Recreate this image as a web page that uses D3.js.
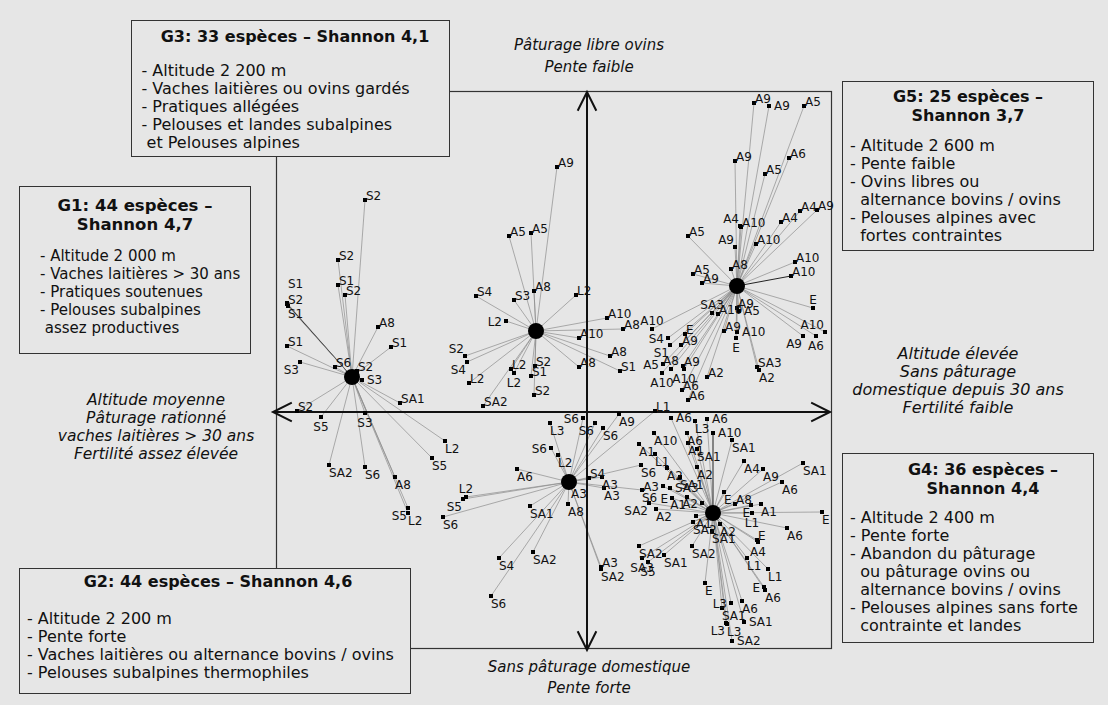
<!DOCTYPE html>
<html>
<head>
<meta charset="utf-8">
<script src="https://cdn.jsdelivr.net/npm/d3@7"></script>
<style>
  body { margin: 0; background: #e6e6e6; }
  svg { display: block; }
  text { font-family: "DejaVu Sans", Verdana, sans-serif; fill: #111; }
</style>
</head>
<body>
<svg id="chart"></svg>
<script>
const svg_width = 1108;
const svg_height = 705;

// group centroids (factor scores, axis 1 / axis 2)
const groupNames = ["G1", "G2", "G3", "G4", "G5"];
const centerX = [-2.35, -0.18, -0.51, 1.26, 1.50];
const centerY = [0.35, -0.70, 0.81, -1.01, 1.26];

// relevés: [label, axis1, axis2, label side]
const g1Points = [
  ["S2", -2.22, 2.12, "ne"], ["S2", -2.49, 1.52, "ne"], ["S1", -2.49, 1.27, "ne"],
  ["S2", -2.42, 1.17, "ne"], ["S1", -3.00, 1.09, "n2"], ["S2", -3.00, 1.08, "ne"],
  ["S1", -2.99, 1.06, "se"], ["A8", -2.09, 0.85, "ne"], ["S1", -1.96, 0.65, "ne"],
  ["S1", -3.00, 0.66, "ne"], ["S3", -2.87, 0.50, "sw"], ["S6", -2.52, 0.45, "ne"],
  ["S2", -2.30, 0.41, "ne"], ["S3", -2.25, 0.32, "e"], ["SA1", -1.87, 0.09, "ne"],
  ["S2", -2.90, 0.01, "ne"], ["S5", -2.66, -0.05, "s"], ["S3", -2.22, -0.01, "s"],
  ["SA2", -2.58, -0.53, "se"], ["S6", -2.22, -0.55, "se"], ["A8", -1.92, -0.65, "se"],
  ["L2", -1.42, -0.29, "se"], ["S5", -1.55, -0.46, "se"], ["S5", -1.79, -0.96, "sw"],
  ["L2", -1.79, -1.01, "se"]
];

const g2Points = [
  ["S6", -0.04, -0.06, "w"], ["L3", -0.37, -0.11, "se"], ["S6", 0.08, -0.11, "sw"],
  ["S6", 0.16, -0.16, "se"], ["A9", 0.32, -0.02, "se"], ["S6", -0.36, -0.36, "w"],
  ["L2", -0.29, -0.43, "se"], ["A6", -0.70, -0.57, "se"], ["S4", 0.02, -0.66, "ne"],
  ["A3", 0.15, -0.65, "se"], ["A3", 0.17, -0.76, "se"], ["A3", -0.16, -0.74, "se"],
  ["A8", -0.19, -0.92, "se"], ["L2", -1.21, -0.85, "n"], ["S5", -1.24, -0.87, "sw"],
  ["S6", -1.44, -1.05, "se"], ["SA1", -0.57, -0.94, "se"], ["S4", -0.88, -1.46, "se"],
  ["SA2", -0.54, -1.40, "se"], ["A3", 0.14, -1.55, "ne"], ["SA2", 0.14, -1.57, "se"],
  ["S6", -0.96, -1.84, "se"], ["L1", 0.68, 0.01, "ne"], ["S6", 0.54, -0.53, "se"],
  ["S6", 0.55, -0.78, "se"]
];

const g3Points = [
  ["A9", -0.30, 2.45, "ne"], ["A5", -0.78, 1.76, "ne"], ["A5", -0.56, 1.79, "ne"],
  ["A8", -0.53, 1.21, "ne"], ["S3", -0.73, 1.12, "ne"], ["S4", -1.11, 1.16, "ne"],
  ["L2", -0.11, 1.17, "ne"], ["L2", -0.81, 0.91, "w"], ["A10", 0.20, 0.94, "ne"],
  ["A8", 0.36, 0.83, "ne"], ["A10", -0.08, 0.74, "ne"], ["S2", -1.22, 0.56, "nw"],
  ["S4", -1.20, 0.50, "sw"], ["L2", -1.18, 0.29, "ne"], ["L2", -0.76, 0.43, "ne"],
  ["L2", -0.73, 0.39, "s"], ["S2", -0.52, 0.46, "ne"], ["S1", -0.56, 0.36, "ne"],
  ["S2", -0.53, 0.17, "ne"], ["SA2", -1.04, 0.06, "ne"], ["A8", 0.23, 0.56, "ne"],
  ["A8", -0.08, 0.45, "ne"], ["S1", 0.33, 0.41, "ne"]
];

const g4Points = [
  ["A6", 0.84, -0.06, "e"], ["L3", 1.08, -0.09, "se"], ["A6", 1.20, -0.07, "e"],
  ["A10", 1.26, -0.21, "e"], ["A10", 0.67, -0.21, "se"], ["A6", 1.00, -0.21, "se"],
  ["A1", 1.01, -0.31, "se"], ["SA1", 1.10, -0.37, "se"], ["SA1", 1.45, -0.28, "se"],
  ["A1", 0.52, -0.32, "se"], ["L1", 0.68, -0.42, "se"], ["A2", 0.80, -0.56, "se"],
  ["A2", 1.10, -0.55, "se"], ["SA1", 0.93, -0.65, "se"], ["A3", 0.76, -0.74, "w"],
  ["SA3", 0.83, -0.76, "e"], ["E", 0.85, -0.86, "w"], ["A1", 1.00, -0.85, "sw"],
  ["A2", 1.15, -0.91, "w"], ["SA2", 0.62, -0.91, "sw"], ["A2", 0.69, -0.97, "se"],
  ["A1", 1.09, -1.04, "se"], ["SA2", 1.06, -1.10, "se"], ["A2", 1.33, -1.12, "se"],
  ["SA1", 1.25, -1.19, "se"], ["E", 1.37, -0.80, "se"], ["A8", 1.48, -0.92, "ne"],
  ["A4", 1.57, -0.49, "se"], ["A9", 1.76, -0.57, "se"], ["SA1", 2.16, -0.51, "se"],
  ["A6", 1.95, -0.70, "se"], ["E", 1.64, -0.93, "sw"], ["A1", 1.74, -0.92, "se"],
  ["L1", 1.65, -1.01, "s"], ["E", 2.35, -1.00, "se"], ["A6", 2.00, -1.16, "se"],
  ["E", 1.70, -1.28, "ne"], ["A4", 1.71, -1.30, "s"], ["SA2", 0.52, -1.34, "se"],
  ["SA2", 1.05, -1.34, "se"], ["SA1", 0.77, -1.43, "se"], ["SA3", 0.55, -1.46, "s"],
  ["S5", 0.61, -1.50, "s"], ["L1", 1.60, -1.46, "se"], ["L1", 1.81, -1.57, "se"],
  ["E", 1.77, -1.75, "w"], ["A6", 1.78, -1.78, "se"], ["E", 1.18, -1.71, "se"],
  ["L3", 1.44, -1.91, "w"], ["A6", 1.55, -1.89, "se"], ["SA1", 1.35, -1.96, "se"],
  ["SA1", 1.57, -2.10, "e"], ["L3", 1.39, -2.11, "sw"], ["L3", 1.40, -2.12, "se"],
  ["SA2", 1.45, -2.29, "e"]
];

const g5Points = [
  ["A9", 1.67, 3.09, "ne"], ["A9", 1.82, 3.06, "e"], ["A5", 2.17, 3.06, "ne"],
  ["A9", 1.48, 2.51, "ne"], ["A6", 2.02, 2.54, "ne"], ["A5", 1.78, 2.38, "ne"],
  ["A4", 2.13, 2.01, "ne"], ["A9", 2.30, 2.02, "ne"], ["A4", 1.94, 1.90, "ne"],
  ["A4", 1.53, 1.86, "nw"], ["A10", 1.54, 1.85, "ne"], ["A9", 1.48, 1.65, "nw"],
  ["A10", 1.69, 1.68, "ne"], ["A5", 1.01, 1.76, "ne"], ["A10", 2.08, 1.50, "ne"],
  ["A10", 2.04, 1.36, "ne"], ["A8", 1.44, 1.43, "ne"], ["A5", 1.06, 1.38, "ne"],
  ["A9", 1.15, 1.29, "ne"], ["SA3", 1.25, 0.99, "n"], ["A10", 1.31, 0.98, "ne"],
  ["A9", 1.50, 1.04, "ne"], ["A5", 1.52, 1.01, "e"], ["E", 2.26, 1.04, "n"],
  ["A10", 1.50, 0.80, "e"], ["A9", 1.37, 0.81, "ne"], ["E", 1.49, 0.74, "s"],
  ["A10", 2.38, 0.80, "nw"], ["A9", 2.16, 0.76, "sw"], ["A6", 2.29, 0.76, "s"],
  ["SA3", 1.70, 0.45, "ne"], ["A2", 1.72, 0.42, "se"], ["A2", 1.20, 0.35, "ne"],
  ["E", 0.98, 0.78, "ne"], ["S4", 0.81, 0.74, "w"], ["A9", 0.94, 0.67, "ne"],
  ["S1", 0.83, 0.67, "sw"], ["A5", 0.76, 0.48, "w"], ["A8", 0.84, 0.43, "n"],
  ["A9", 0.96, 0.46, "ne"], ["A10", 0.97, 0.43, "s"], ["A10", 0.75, 0.39, "s"],
  ["A6", 0.95, 0.22, "ne"], ["A6", 1.01, 0.12, "ne"], ["A10", 0.65, 0.83, "n"]
];

const groupPoints = [g1Points, g2Points, g3Points, g4Points, g5Points];

// spokes drawn darker in the original: [group index, point index]
const darkSpokes = [[0, 5], [3, 3], [4, 15]];

// axis extremities
const xDomain = [-3.11, 2.44];
const yDomain = [-2.36, 3.21];

// text
const topLabel = ["Pâturage libre ovins", "Pente faible"];
const bottomLabel = ["Sans pâturage domestique", "Pente forte"];
const leftLabel = ["Altitude moyenne", "Pâturage rationné", "vaches laitières > 30 ans", "Fertilité assez élevée"];
const rightLabel = ["Altitude élevée", "Sans pâturage", "domestique depuis 30 ans", "Fertilité faible"];

const boxTitles = {
  G3: ["G3: 33 espèces – Shannon 4,1"],
  G1: ["G1: 44 espèces –", "Shannon 4,7"],
  G2: ["G2: 44 espèces – Shannon 4,6"],
  G5: ["G5: 25 espèces –", "Shannon 3,7"],
  G4: ["G4: 36 espèces –", "Shannon 4,4"]
};
const boxLines = {
  G3: ["- Altitude 2 200 m", "- Vaches laitières ou ovins gardés", "- Pratiques allégées",
       "- Pelouses et landes subalpines", " et Pelouses alpines"],
  G1: ["- Altitude 2 000 m", "- Vaches laitières > 30 ans", "- Pratiques soutenues",
       "- Pelouses subalpines", " assez productives"],
  G2: ["- Altitude 2 200 m", "- Pente forte", "- Vaches laitières ou alternance bovins / ovins",
       "- Pelouses subalpines thermophiles"],
  G5: ["- Altitude 2 600 m", "- Pente faible", "- Ovins libres ou", "  alternance bovins / ovins",
       "- Pelouses alpines avec", "  fortes contraintes"],
  G4: ["- Altitude 2 400 m", "- Pente forte", "- Abandon du pâturage", "  ou pâturage ovins ou",
       "  alternance bovins / ovins", "- Pelouses alpines sans forte", "  contrainte et landes"]
};

// box layout (pixels)
const boxLayout = {
  G3: {x: 131.5, y: 20.5, w: 318, h: 136, cx: 295, t0: 42, b0: 76, bx: 141.5, fs: 16, ts: 16},
  G1: {x: 19.5, y: 186.5, w: 231, h: 167, cx: 135, t0: 211, b0: 261, bx: 40, fs: 15, ts: 16.5},
  G2: {x: 19.5, y: 568.5, w: 391, h: 125, cx: 218, t0: 587, b0: 624, bx: 27, fs: 16, ts: 16},
  G5: {x: 842.5, y: 81.5, w: 251, h: 169, cx: 968, t0: 102, b0: 151, bx: 850, fs: 16, ts: 16},
  G4: {x: 842.5, y: 453.5, w: 251, h: 189, cx: 983, t0: 475, b0: 523, bx: 850, fs: 16, ts: 16}
};

const svg = d3.select("svg#chart")
    .attr("width", svg_width)
    .attr("height", svg_height);

svg.append("rect")
    .attr("width", svg_width)
    .attr("height", svg_height)
    .attr("fill", "#e6e6e6");

var x = d3.scaleLinear().domain(xDomain).range([276, 831]);
var y = d3.scaleLinear().domain(yDomain).range([648, 91]);

// frame
svg.append("rect")
    .attr("x", x(xDomain[0]) + 0.5)
    .attr("y", y(yDomain[1]) + 0.5)
    .attr("width", x(xDomain[1]) - x(xDomain[0]))
    .attr("height", y(yDomain[0]) - y(yDomain[1]))
    .attr("fill", "none")
    .attr("stroke", "#333")
    .attr("stroke-width", 1.2);

// spokes
groupPoints.forEach((pts, gi) => {
  svg.append("g")
    .selectAll("line")
    .data(pts)
    .enter()
    .append("line")
    .attr("x1", x(centerX[gi]))
    .attr("y1", y(centerY[gi]))
    .attr("x2", d => x(d[1]))
    .attr("y2", d => y(d[2]))
    .attr("stroke", (d, i) => darkSpokes.some(s => s[0] === gi && s[1] === i) ? "#222" : "#8c8c8c")
    .attr("stroke-width", (d, i) => darkSpokes.some(s => s[0] === gi && s[1] === i) ? 1 : 0.7);
});

// axes arrows
function arrow(x1, y1, x2, y2) {
  var g = svg.append("g").attr("stroke", "#111").attr("stroke-width", 2).attr("fill", "none");
  g.append("line").attr("x1", x1).attr("y1", y1).attr("x2", x2).attr("y2", y2);
  var ang = Math.atan2(y2 - y1, x2 - x1);
  [[x1, y1, ang + Math.PI], [x2, y2, ang]].forEach(([tx, ty, a]) => {
    var l = 21, s = 0.46;
    g.append("path")
      .attr("d", "M" + (tx - l * Math.cos(a - s)) + "," + (ty - l * Math.sin(a - s)) +
                 "L" + tx + "," + ty +
                 "L" + (tx - l * Math.cos(a + s)) + "," + (ty - l * Math.sin(a + s)));
  });
}
arrow(x(-3.14), y(0), x(2.43), y(0));
arrow(x(0), y(3.20), x(0), y(-2.38));

// markers
const allPoints = groupPoints.flat();
svg.append("g")
  .selectAll("rect")
  .data(allPoints)
  .enter()
  .append("rect")
  .attr("x", d => x(d[1]) - 2)
  .attr("y", d => y(d[2]) - 2)
  .attr("width", 4)
  .attr("height", 4)
  .attr("fill", "#000");

// centroids
svg.append("g")
  .selectAll("circle")
  .data(groupNames)
  .enter()
  .append("circle")
  .attr("cx", (d, i) => x(centerX[i]))
  .attr("cy", (d, i) => y(centerY[i]))
  .attr("r", 8)
  .attr("fill", "#000");

// point labels
const side = {
  ne: [1, 0, "start"], e: [5, 4, "start"], se: [0, 12, "start"], s: [0, 14, "middle"],
  sw: [-1, 12, "end"], w: [-4, 5, "end"], nw: [-1, -3, "end"], n: [0, -4, "middle"],
  n2: [1, -15, "start"]
};
svg.append("g")
  .selectAll("text")
  .data(allPoints)
  .enter()
  .append("text")
  .attr("x", d => x(d[1]) + side[d[3]][0])
  .attr("y", d => y(d[2]) + side[d[3]][1])
  .attr("text-anchor", d => side[d[3]][2])
  .style("font-size", "12px")
  .text(d => d[0]);

// italic axis descriptions
function stack(lines, cx, y0, step, fs) {
  svg.append("g")
    .selectAll("text")
    .data(lines)
    .enter()
    .append("text")
    .attr("x", cx)
    .attr("y", (d, i) => y0 + i * step)
    .attr("text-anchor", "middle")
    .style("font-size", fs + "px")
    .style("font-style", "italic")
    .text(d => d);
}
stack(topLabel, x(0) + 2, 50, 22, 15);
stack(bottomLabel, x(0) + 2, 672, 21, 15);
stack(leftLabel, 156, 405, 18, 15.5);
stack(rightLabel, 958, 359, 18, 16);

// group boxes
Object.keys(boxLayout).forEach(k => {
  var b = boxLayout[k];
  var g = svg.append("g");
  g.append("rect")
    .attr("x", b.x).attr("y", b.y)
    .attr("width", b.w).attr("height", b.h)
    .attr("fill", "#e6e6e6")
    .attr("stroke", "#333")
    .attr("stroke-width", 1);
  g.selectAll("text.title")
    .data(boxTitles[k])
    .enter()
    .append("text")
    .attr("class", "title")
    .attr("x", b.cx)
    .attr("y", (d, i) => b.t0 + i * 19)
    .attr("text-anchor", "middle")
    .style("font-size", b.ts + "px")
    .style("font-weight", "bold")
    .text(d => d);
  g.selectAll("text.body")
    .data(boxLines[k])
    .enter()
    .append("text")
    .attr("class", "body")
    .attr("x", b.bx)
    .attr("y", (d, i) => b.b0 + i * 18)
    .style("white-space", "pre")
    .style("font-size", b.fs + "px")
    .text(d => d);
});
</script>
</body>
</html>
